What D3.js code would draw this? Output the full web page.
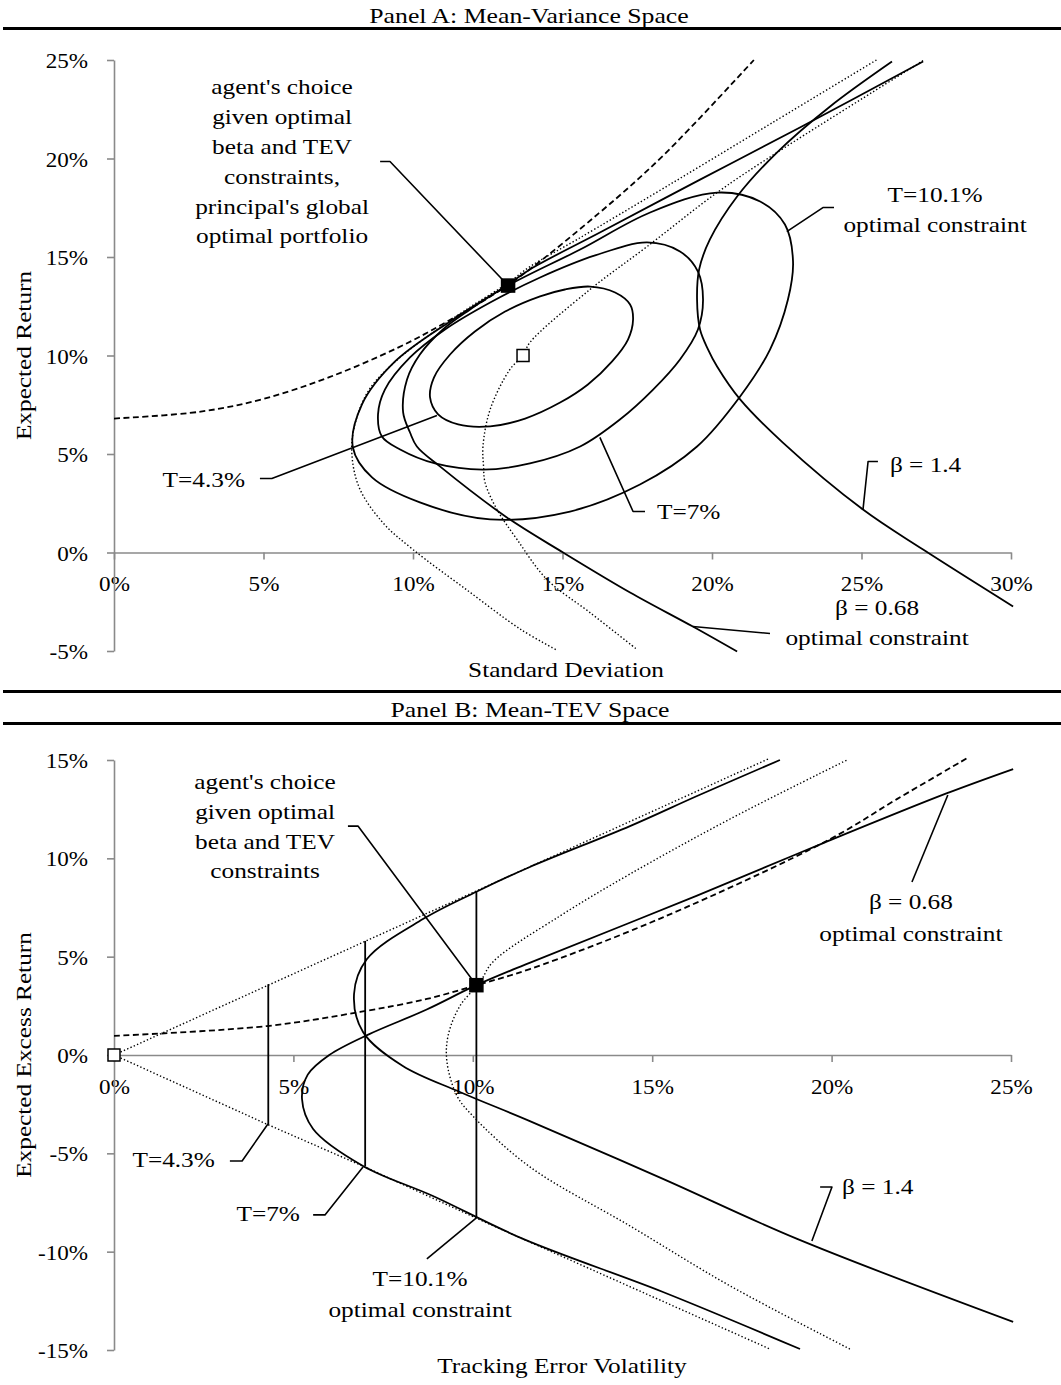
<!DOCTYPE html>
<html><head><meta charset="utf-8">
<script src="https://cdn.jsdelivr.net/npm/d3@7"></script>
<style>body{margin:0;background:#fff}svg{display:block}</style>
</head><body>
<svg id="chart" width="1061" height="1385"></svg>
<script>
// ---------- Panel A data (x = standard deviation %, y = expected return %) ----------
const A_xTicks = [0,5,10,15,20,25,30];
const A_yTicks = [-5,0,5,10,15,20,25];
const A_dashed = [[0,6.8],[2.9,7.15],[5,7.8],[7.2,8.9],[9.5,10.4],[11,11.6],[13.2,13.6],[16.2,17.2],[18.4,20.2],[21.4,25.0]];
const A_dotOuter = [[25.5,25.0],[22.0,21.8],[18.5,18.6],[15.5,15.9],[13.9,14.5],[13.2,13.7],[11.9,12.45],[10.6,11.1],[9.45,9.75],[8.55,8.3],[8.1,6.75],[7.95,5.2],[8.2,3.3],[9.0,1.5],[10.0,0.15],[11.8,-1.9],[13.6,-3.9],[14.8,-4.95]];
const A_dotInner = [[27.06,24.97],[22.17,20.3],[20.17,18.27],[17.83,15.53],[15.92,13.35],[13.91,10.66],[13.68,10.0],[13.24,9.29],[12.58,7.26],[12.34,5.38],[12.36,4.37],[12.41,3.55],[12.81,2.18],[13.48,0.66],[14.48,-1.37],[15.92,-3.05],[17.49,-4.92]];
const A_beta068 = [[27.06,24.92],[22.94,21.57],[19.6,18.93],[16.25,16.24],[13.91,14.37],[13.18,13.6],[11.91,12.34],[11.0,11.32],[10.23,10.05],[9.8,8.78],[9.67,7.11],[9.9,6.09],[10.13,5.38],[10.9,4.37],[13.14,1.78],[15.02,0],[17.26,-2.03],[19.36,-3.76],[20.84,-5.03]];
const A_beta14 = [[26.02,24.92],[23.95,22.64],[22.17,20.3],[20.84,18.07],[19.93,15.89],[19.57,14.37],[19.5,12.84],[19.6,11.32],[19.87,10.3],[20.17,9.44],[20.94,7.77],[22.37,5.58],[25.05,2.18],[27.06,0.15],[30.07,-2.74]];
const A_T101 = [[20.17,18.27],[21.61,17.82],[22.44,16.65],[22.71,14.77],[22.54,12.84],[21.94,10.3],[20.94,7.92],[19.5,5.38],[17.59,3.45],[15.25,2.08],[12.58,1.68],[10.23,2.54],[8.63,3.81],[7.99,5.33],[8.29,7.51],[9.4,9.7],[11.24,11.73],[13.18,13.55],[15.59,15.38],[17.93,17.26]];
const A_T7 = [[17.83,15.74],[18.93,15.28],[19.53,14.26],[19.7,12.84],[19.53,11.32],[18.93,9.8],[18.03,8.27],[16.92,6.75],[15.59,5.38],[13.91,4.52],[12.34,4.21],[10.74,4.52],[9.57,5.23],[8.96,5.89],[8.83,7.01],[9.06,8.27],[9.9,9.9],[11.07,11.32],[12.58,12.69],[14.25,13.96],[16.09,15.08]];
const A_T43 = [[15.92,13.5],[16.76,13.2],[17.26,12.59],[17.36,11.83],[17.19,10.81],[16.66,9.7],[15.85,8.53],[14.92,7.61],[13.75,6.8],[12.58,6.4],[11.51,6.5],[10.84,7.01],[10.57,7.87],[10.7,8.88],[11.24,10.05],[12.07,11.22],[13.08,12.23],[14.25,13.0],[15.08,13.35]];
const A_agent = [13.18,13.55];
const A_benchmark = [13.68,10.0];

// ---------- Panel B data (x = tracking error volatility %, y = expected excess return %) ----------
const B_xTicks = [0,5,10,15,20,25];
const B_yTicks = [-15,-10,-5,0,5,10,15];
const B_dashed = [[0,0.97],[4.26,1.47],[6.86,2.19],[8.72,2.85],[10.1,3.55],[11.59,4.37],[15.3,7.0],[19.96,10.98],[21.82,13.01],[23.83,15.15]];
const B_coneUp = [[0,0],[4.3,3.55],[10.1,8.34],[18.23,15.05]];
const B_coneDown = [[0,0],[4.3,-3.55],[7.0,-5.7],[10.1,-8.3],[18.28,-14.95]];
const B_dotHyp = [[20.51,-14.95],[17.17,-11.74],[14.38,-8.69],[11.6,-5.7],[10.0,-3.1],[9.56,-2.08],[9.28,-0.36],[9.31,0.97],[9.64,2.49],[10.2,3.7],[10.56,4.73],[12.43,7.07],[14.38,9.2],[17.17,12.0],[20.43,15.0]];
const B_beta068 = [[19.12,-14.95],[15.3,-12.05],[11.4,-9.35],[8.89,-7.17],[6.94,-5.64],[5.55,-3.76],[5.24,-2.24],[5.4,-1.0],[6.0,0.0],[7.1,1.05],[8.7,2.3],[10.1,3.55],[11.6,4.7],[16.25,8.1],[19.8,10.8],[23.2,13.3],[25.06,14.54]];
const B_beta14 = [[18.56,15.0],[16.25,13.17],[14.38,11.64],[11.59,9.56],[10.1,8.3],[8.61,6.91],[7.05,4.88],[6.69,3.1],[6.94,1.17],[8.05,-0.56],[9.64,-1.88],[11.59,-3.36],[15.3,-6.3],[19.04,-9.35],[25.06,-13.57]];
const B_teLevels = [4.3,7.0,10.1];
const B_teTop = [3.6,5.8,8.34];
const B_teBottom = [-3.55,-5.65,-8.3];
const B_agent = [10.1,3.55];
const B_benchmark = [0,0];

// ---------- drawing ----------
const FONT = "'Liberation Serif','Times New Roman',serif";
const SX = 1.15;
const svg = d3.select("#chart");

const xA = d3.scaleLinear().domain([0,30]).range([114,1011]);
const yA = d3.scaleLinear().domain([-5,25]).range([651,60]);
const xB = d3.scaleLinear().domain([0,25]).range([114,1011]);
const yB = d3.scaleLinear().domain([-15,15]).range([1350,760]);

[28.5,691.5,723.5].forEach(y=>svg.append("line").attr("x1",3).attr("x2",1061).attr("y1",y).attr("y2",y).attr("stroke","#000").attr("stroke-width",2.8));

function txt(x,y,s,anchor,size,sx,rot){
  return svg.append("text")
    .attr("transform",`translate(${x},${y})${rot?` rotate(${rot})`:""} scale(${sx||SX},1)`)
    .attr("text-anchor",anchor||"middle").attr("font-family",FONT).attr("font-size",size||22).attr("fill","#000").text(s);
}
function block(x,y,lines,anchor,lh){ lines.forEach((s,i)=>txt(x,y+i*lh,s,anchor)); }

txt(529,23,"Panel A: Mean-Variance Space","middle",22,1.17);
txt(530,717,"Panel B: Mean-TEV Space","middle",22,1.17);

function styleAxis(g,left){
  g.attr("font-family",FONT).attr("font-size",21);
  g.select(".domain").attr("stroke","#8a8a8a").attr("stroke-width",1.6);
  g.selectAll(".tick line").attr("stroke","#8a8a8a").attr("stroke-width",1.6);
  const t = g.selectAll(".tick text").attr("fill","#000").attr("transform","scale(1.1,1)");
  if(left) t.attr("x",-26/1.1).attr("dy","0.36em");
}
function axes(xs,ys,xt,yt){
  const gx = svg.append("g").attr("transform",`translate(0,${ys(0)})`)
    .call(d3.axisBottom(xs).tickValues(xt).tickFormat(d=>d+"%").tickSize(7).tickSizeOuter(0).tickPadding(17));
  styleAxis(gx,false);
  const gy = svg.append("g").attr("transform",`translate(${xs(0)},0)`)
    .call(d3.axisLeft(ys).tickValues(yt).tickFormat(d=>d+"%").tickSize(7).tickSizeOuter(0).tickPadding(19));
  styleAxis(gy,true);
}
axes(xA,yA,A_xTicks,A_yTicks);
axes(xB,yB,B_xTicks,B_yTicks);

function mk(xs,ys,closed,linear){
  return d3.line().x(d=>xs(d[0])).y(d=>ys(d[1]))
    .curve(linear?d3.curveLinear:(closed?d3.curveCatmullRomClosed.alpha(0.5):d3.curveCatmullRom.alpha(0.5)));
}
const styles = {
  solid:{w:1.8,dash:null},
  dashed:{w:1.8,dash:"6,3.5"},
  dotted:{w:1.4,dash:"1.4,2.2"},
  leader:{w:1.6,dash:null}
};
function path(data,xs,ys,st,closed,linear){
  svg.append("path").attr("d",mk(xs,ys,closed,linear)(data)).attr("fill","none")
    .attr("stroke","#000").attr("stroke-width",styles[st].w)
    .attr("stroke-dasharray",styles[st].dash).attr("stroke-linejoin","round");
}

// Panel A curves
path(A_dotOuter,xA,yA,"dotted");
path(A_dotInner,xA,yA,"dotted");
path(A_dashed,xA,yA,"dashed");
path(A_beta068,xA,yA,"solid");
path(A_beta14,xA,yA,"solid");
path(A_T101,xA,yA,"solid",true);
path(A_T7,xA,yA,"solid",true);
path(A_T43,xA,yA,"solid",true);

const A_leaders = [
  [[8.9,19.85],[9.23,19.85],A_agent],
  [[24.08,17.51],[23.71,17.51],[22.5,16.29]],
  [[4.88,3.76],[5.28,3.76],[10.8,6.95]],
  [[16.25,5.84],[17.36,2.08],[17.76,2.08]],
  [[25.05,2.18],[25.22,4.62],[25.55,4.62]],
  [[19.36,-3.76],[21.94,-4.11]]
];
A_leaders.forEach(l=>path(l,xA,yA,"leader",false,true));

// Panel B curves
path(B_coneUp,xB,yB,"dotted",false,true);
path(B_coneDown,xB,yB,"dotted",false,true);
path(B_dotHyp,xB,yB,"dotted");
path(B_dashed,xB,yB,"dashed");
path(B_beta068,xB,yB,"solid");
path(B_beta14,xB,yB,"solid");
B_teLevels.forEach((t,i)=>path([[t,B_teTop[i]],[t,B_teBottom[i]]],xB,yB,"solid",false,true));

const B_leaders = [
  [[6.52,11.64],[6.8,11.64],B_agent],
  [[22.24,8.8],[23.24,13.22]],
  [[19.68,-6.71],[20.01,-6.71],[19.45,-9.46]],
  [[3.23,-5.39],[3.57,-5.39],[4.29,-3.51]],
  [[5.55,-8.13],[5.88,-8.13],[6.94,-5.69]],
  [[8.72,-10.37],[10.1,-8.28]]
];
B_leaders.forEach(l=>path(l,xB,yB,"leader",false,true));

function sq(p,xs,ys,filled){
  const s = filled?13:12;
  svg.append("rect").attr("x",xs(p[0])-s/2).attr("y",ys(p[1])-s/2).attr("width",s).attr("height",s)
    .attr("fill",filled?"#000":"#fff").attr("stroke","#000").attr("stroke-width",1.5);
}
sq(A_agent,xA,yA,true);
sq(A_benchmark,xA,yA,false);
sq(B_agent,xB,yB,true);
sq(B_benchmark,xB,yB,false);

// Panel A labels
block(xA(5.62),yA(23.25),["agent's choice","given optimal","beta and TEV","constraints,","principal's global","optimal portfolio"],"middle",29.8);
block(xA(27.46),yA(17.77),["T=10.1%","optimal constraint"],"middle",29.5);
txt(xA(4.38),yA(3.35),"T=4.3%","end");
txt(xA(18.16),yA(1.68),"T=7%","start");
txt(xA(25.95),yA(4.11),"β = 1.4","start");
block(xA(25.52),yA(-3.15),["β = 0.68","optimal constraint"],"middle",30);
txt(566,677,"Standard Deviation","middle");
txt(31,yA(10),"Expected Return","middle",22,SX,-90);

// Panel B labels
block(xB(4.21),yB(13.52),["agent's choice","given optimal","beta and TEV","constraints"],"middle",29.7);
block(xB(22.21),yB(7.42),["β = 0.68","optimal constraint"],"middle",32);
txt(xB(20.29),yB(-7.07),"β = 1.4","start");
txt(xB(2.81),yB(-5.69),"T=4.3%","end");
txt(xB(5.18),yB(-8.44),"T=7%","end");
block(xB(8.53),yB(-11.74),["T=10.1%","optimal constraint"],"middle",31);
txt(562,1373,"Tracking Error Volatility","middle");
txt(31,yB(0),"Expected Excess Return","middle",22,SX,-90);
</script>
</body></html>
